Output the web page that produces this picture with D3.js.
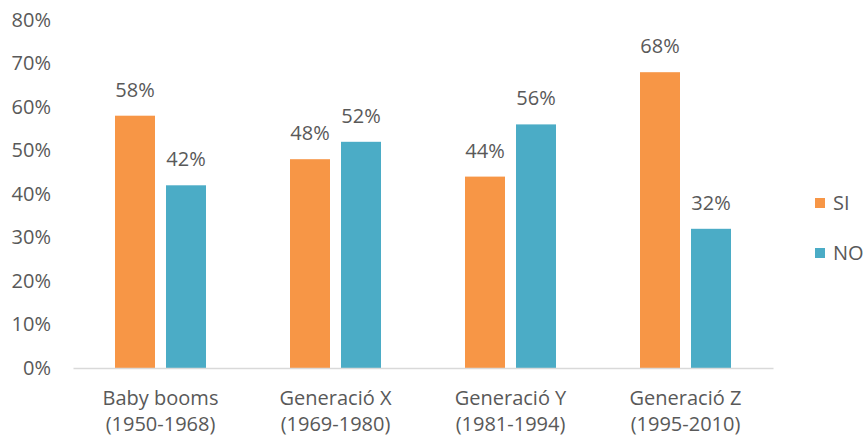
<!DOCTYPE html>
<html>
<head>
<meta charset="utf-8">
<script src="https://cdn.jsdelivr.net/npm/d3@7"></script>
<style>
  html, body { margin: 0; padding: 0; background: #fff; }
  svg text { font-family: "Open Sans", "Segoe UI", sans-serif; fill: #595959; }
</style>
</head>
<body>
<svg id="chart" width="867" height="438"></svg>
<script>
// Generations and their birth-year ranges
const categories = ["Baby booms", "Generació X", "Generació Y", "Generació Z"];
const yearRanges = ["(1950-1968)", "(1969-1980)", "(1981-1994)", "(1995-2010)"];
const seriesNames = ["SI", "NO"];
const siValues = [58, 48, 44, 68];
const noValues = [42, 52, 56, 32];
const yTicks = [0, 10, 20, 30, 40, 50, 60, 70, 80];
const colors = { SI: "#F79646", NO: "#4BACC6" };

const fontSize = "20px";
const svg = d3.select("#chart");
const plot = { left: 73, right: 773, top: 20, bottom: 368 };

const y = d3.scaleLinear().domain([0, 80]).range([plot.bottom, plot.top]);
const x0 = d3.scaleBand().domain(categories).range([plot.left, plot.right]).padding(0);
const groupW = 91;
const x1 = d3.scaleBand().domain(seriesNames)
  .range([(x0.bandwidth() - groupW) / 2, (x0.bandwidth() + groupW) / 2])
  .paddingInner(11 / 51);

const rows = categories.map((c, i) => ({ cat: c, SI: siValues[i], NO: noValues[i] }));

// Y axis labels (no ticks, no line)
const yAxis = d3.axisLeft(y).tickValues(yTicks).tickFormat(d => d + "%").tickSize(0).tickPadding(0);
const gy = svg.append("g").attr("transform", `translate(51,0)`).call(yAxis);
gy.select(".domain").remove();
gy.selectAll("text").style("font-size", fontSize).attr("fill", "#595959").attr("font-family", null);

// Bars
const groups = svg.append("g").selectAll("g").data(rows).join("g")
  .attr("transform", d => `translate(${x0(d.cat)},0)`);

groups.selectAll("rect").data(d => seriesNames.map(k => ({ key: k, value: d[k] }))).join("rect")
  .attr("x", d => x1(d.key))
  .attr("width", x1.bandwidth())
  .attr("y", d => y(d.value))
  .attr("height", d => y(0) - y(d.value))
  .attr("fill", d => colors[d.key]);

groups.selectAll("text.val").data(d => seriesNames.map(k => ({ key: k, value: d[k] }))).join("text")
  .attr("class", "val")
  .attr("x", d => x1(d.key) + x1.bandwidth() / 2)
  .attr("y", d => y(d.value) - 19)
  .attr("text-anchor", "middle")
  .style("font-size", fontSize)
  .text(d => d.value + "%");

// X axis baseline
const xAxis = d3.axisBottom(x0).tickSize(0).tickFormat("");
const gx = svg.append("g").attr("transform", `translate(0,${plot.bottom})`).call(xAxis);
gx.select(".domain").attr("stroke", "#D9D9D9").attr("stroke-width", 1.3);

// Category labels on two lines
const labels = svg.append("g").selectAll("text").data(categories).join("text")
  .attr("x", d => x0(d) + x0.bandwidth() / 2)
  .attr("y", 405)
  .attr("text-anchor", "middle")
  .style("font-size", fontSize);
labels.append("tspan").text(d => d);
labels.append("tspan")
  .attr("x", d => x0(d) + x0.bandwidth() / 2)
  .attr("dy", 26)
  .text((d, i) => yearRanges[i]);

// Legend
const legend = svg.append("g").selectAll("g").data(seriesNames).join("g")
  .attr("transform", (d, i) => `translate(815,${198 + i * 50})`);
legend.append("rect").attr("width", 10).attr("height", 10).attr("fill", d => colors[d]);
legend.append("text").attr("x", 18).attr("y", 5).attr("dy", "0.35em")
  .style("font-size", fontSize).text(d => d);
</script>
</body>
</html>
